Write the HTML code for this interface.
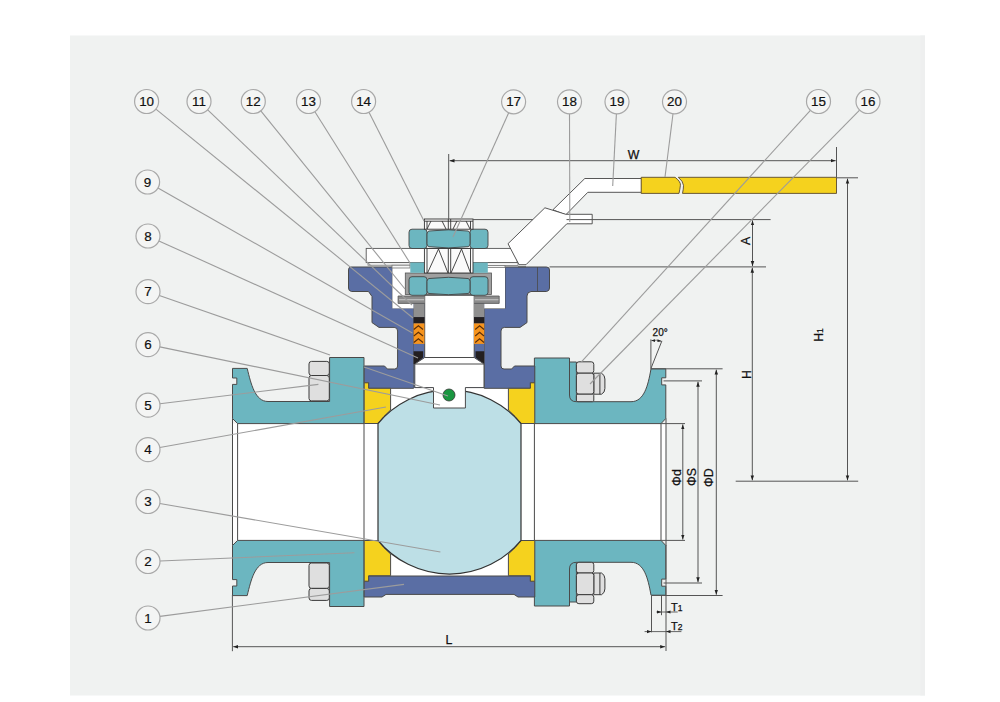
<!DOCTYPE html>
<html><head><meta charset="utf-8">
<style>
html,body{margin:0;padding:0;background:#fff;}
body{width:1000px;height:702px;overflow:hidden;position:relative;font-family:"Liberation Sans",sans-serif;}
svg{position:absolute;left:0;top:0;}
</style></head><body>
<svg width="1000" height="702" viewBox="0 0 1000 702" font-family="Liberation Sans, sans-serif">
<rect x="0" y="0" width="1000" height="702" fill="#ffffff"/>
<rect x="70" y="35.5" width="855" height="660" fill="#f0f2f1"/>
<rect x="920.3" y="35.5" width="4.7" height="660" fill="#eeefef"/>

<!-- ===== VALVE ===== -->
<g id="valve" stroke="#4a4a4a" stroke-width="1">
<!-- bore / cavity white -->
<rect x="232.5" y="423.6" width="433.3" height="116.8" fill="#ffffff" stroke="none"/>
<rect x="364" y="388" width="171" height="188" fill="#ffffff" stroke="none"/>

<!-- left flange top -->
<path fill="#6cb6c0" d="M232.5,368.4 H247.2 C251,384 255,401.5 268,401.5 H329.6 V357.5 H364 V423.6 H237.6 L232.5,418.5 V384.4 H236.8 V378 H232.5 Z"/>
<!-- left flange bottom -->
<path fill="#6cb6c0" d="M232.5,595.6 H247.2 C251,580 255,562.5 268,562.5 H329.6 V606.5 H364 V540.4 H237.6 L232.5,545.5 V579.6 H236.8 V586 H232.5 Z"/>
<!-- right flange top -->
<path fill="#6cb6c0" d="M534.4,358 H569.5 V362 H576.4 V401.7 H631 C644,401.7 648,386 651,368.8 H665.8 V377.8 H661.7 V384.9 H665.8 V418.5 L661,423.6 H534.4 Z"/>
<!-- right flange bottom -->
<path fill="#6cb6c0" d="M534.4,606 H569.5 V602 H576.4 V562.3 H631 C644,562.3 648,578 651,595.2 H665.8 V586.2 H661.7 V579.1 H665.8 V545.5 L661,540.4 H534.4 Z"/>

<!-- bore lines -->
<line x1="237.6" y1="423.6" x2="237.6" y2="540.4"/>
<line x1="661" y1="423.6" x2="661" y2="540.4"/>
<line x1="232.5" y1="418.5" x2="232.5" y2="545.5"/>
<line x1="666" y1="418.5" x2="666" y2="545.5"/>
<line x1="364" y1="423.6" x2="364" y2="540.4"/>
<line x1="534.4" y1="423.6" x2="534.4" y2="540.4"/>
<path fill="none" d="M569.5,362 V395 Q569.5,401.7 576.4,401.7 M569.5,602 V569 Q569.5,562.3 576.4,562.3"/>

<!-- body left -->
<path fill="#5a6ea4" d="M351,267 H392.4 V308 H413.6 V388.3 H368.6 V382.8 H364.2 V366 H384.5 L387.4,369 H394.6 Q397.6,369 397.6,366 V331 Q397.6,327.4 394.2,327.4 H379 L372,322.6 V296.5 L368.5,291.5 H351.5 Q348.5,291 348.5,288 V270 Q348.5,267 351,267 Z"/>
<!-- body right -->
<path fill="#5a6ea4" d="M546.5,267 H505 V308.4 H484.2 V388.3 H530.4 V382.8 H534.8 V366 H514.5 L511.6,369 H504 Q501,369 501,366 V331 Q501,327.4 504.4,327.4 H520 L527,322.6 V296 Q527,292 531,291.5 H546.5 Q549.5,291 549.5,288 V270 Q549.5,267 546.5,267 Z"/>
<line x1="537.5" y1="267" x2="537.5" y2="291" stroke-width="0.8"/>
<!-- body bottom band -->
<path fill="#5a6ea4" d="M368.6,576 H530.4 V581.2 H534.8 V597 H518 L514,594.4 H386 L382,597 H364.2 V581.2 H368.6 Z"/>

<!-- seats -->
<path fill="#f5d21e" d="M364.2,382.8 H368.6 V388.3 H390.6 V410 A93,93 0 0 0 378,423.5 H364.2 Z"/>
<path fill="#f5d21e" d="M534.8,382.8 H530.4 V388.3 H508.4 V410 A93,93 0 0 1 521,423.5 H534.8 Z"/>
<path fill="#f5d21e" d="M364.2,581.2 H368.6 V575.7 H390.6 V554 A93,93 0 0 1 378,540.5 H364.2 Z"/>
<path fill="#f5d21e" d="M534.8,581.2 H530.4 V575.7 H508.4 V554 A93,93 0 0 0 521,540.5 H534.8 Z"/>

<!-- ball -->
<path fill="#bddfe6" stroke="#333" stroke-width="1.2" d="M378,423.5 A93,93 0 0 1 521,423.5 V540.5 A93,93 0 0 1 378,540.5 Z"/>


<!-- ===== BOLTS ===== -->
<g fill="#dfdfdf" stroke="#3a3a3a" stroke-width="1">
<rect x="309" y="361.4" width="20.3" height="14.1" rx="2.5"/>
<rect x="309" y="375.5" width="20.3" height="25.4" rx="2.5"/>
<rect x="309" y="563" width="20.3" height="25.4" rx="2.5"/>
<rect x="309" y="588.4" width="20.3" height="12" rx="2.5"/>
<path d="M593.8,373.2 H601.5 Q604.9,375 604.9,379 V388.5 Q604.9,392.5 601.5,394.2 H593.8 Z"/>
<line x1="599.9" y1="373.2" x2="599.9" y2="394.2"/>
<rect x="576.4" y="361.8" width="17.4" height="11.4" rx="2.5"/>
<rect x="576.4" y="373.2" width="17.4" height="21" rx="2.5"/>
<rect x="576.4" y="394.2" width="17.4" height="7.5" rx="1.5"/>
<path d="M593.8,573 H601.5 Q604.9,574.8 604.9,578.8 V588.9 Q604.9,592.9 601.5,594.7 H593.8 Z"/>
<line x1="599.9" y1="573" x2="599.9" y2="594.7"/>
<rect x="576.4" y="562.3" width="17.4" height="10.7" rx="2.5"/>
<rect x="576.4" y="573" width="17.4" height="21.7" rx="2.5"/>
<rect x="576.4" y="594.7" width="17.4" height="9" rx="2.5"/>
</g>
<!-- ===== STEM AREA ===== -->
<!-- top cavity white -->
<rect x="392.4" y="267" width="112.6" height="41.4" fill="#ffffff" stroke="none"/>
<rect x="413.6" y="303" width="70.6" height="85" fill="#5a6ea4" stroke="none"/>
<!-- upper stem -->
<rect x="424.7" y="295.3" width="49.5" height="62.5" fill="#ffffff"/>
<!-- packing left -->
<rect x="413.6" y="303.4" width="10.8" height="13.7" fill="#8f8f8f" stroke="none"/>
<rect x="413.6" y="317.1" width="10.8" height="6.3" fill="#231f20" stroke="none"/>
<rect x="413.6" y="323.4" width="10.8" height="20.5" fill="#f7941d" stroke="none"/>
<path fill="none" stroke="#5a2e08" stroke-width="1.1" d="M413.8,329.5 L418.4,325.8 L423,329.5 M413.8,336 L418.4,332.3 L423,336 M413.8,342.5 L418.4,338.8 L423,342.5"/>
<!-- packing right -->
<rect x="474" y="303.4" width="10.2" height="13.7" fill="#8f8f8f" stroke="none"/>
<rect x="474" y="317.1" width="10.2" height="6.3" fill="#231f20" stroke="none"/>
<rect x="474" y="323.4" width="10.2" height="20.5" fill="#f7941d" stroke="none"/>
<path fill="none" stroke="#5a2e08" stroke-width="1.1" d="M475.2,329.5 L479.6,325.8 L484,329.5 M475.2,336 L479.6,332.3 L484,336 M475.2,342.5 L479.6,338.8 L484,342.5"/>
<!-- black gaskets -->
<path fill="#231f20" stroke="none" d="M413.6,351.3 H423.2 V357.5 L415,364 H413.6 Z"/>
<path fill="#231f20" stroke="none" d="M484.2,351.3 H475.5 V357.5 L483.5,364 H484.2 Z"/>
<!-- lower stem -->
<path fill="#ffffff" d="M424.7,357.5 H474.2 L484,364 V387.6 H465.4 V408 H433.5 V387.6 H414.8 V364 Z"/>
<line x1="414.8" y1="364" x2="484" y2="364"/>
<circle cx="449" cy="395" r="6" fill="#1a9640" stroke="#333" stroke-width="0.8"/>

<!-- washer -->
<path d="M424.7,296 H398.1 V303.4 H424.7 M474.2,296 H499.2 V303.4 H474.2" fill="#8c8c8c" stroke="#555" stroke-width="0.8"/>
<line x1="399" y1="299.7" x2="424" y2="299.7" stroke="#c0c0c0" stroke-width="1.2"/>
<line x1="475" y1="299.7" x2="498.4" y2="299.7" stroke="#c0c0c0" stroke-width="1.2"/>
<!-- lower nut frame -->
<rect x="405.3" y="273" width="86.2" height="21.5" fill="#a0a0a0" stroke="#555" stroke-width="0.8"/>
<!-- lower nut -->
<g fill="#6cb6c0" stroke="#444" stroke-width="0.9">
<rect x="409" y="276.7" width="18" height="18.6" rx="3"/>
<rect x="470" y="276.7" width="18" height="18.6" rx="3"/>
<path d="M429,278.5 Q448.5,276.09999999999997 468,278.5 Q470,279.0 470,281.5 V290.5 Q470,293.0 468,293.5 Q448.5,295.90000000000003 429,293.5 Q427,293.0 427,290.5 V281.5 Q427,279.0 429,278.5 Z"/>
</g>
<!-- handle plate -->
<rect x="368" y="262.4" width="42" height="2.8" fill="#f6f6f6" stroke="#777" stroke-width="0.8"/>
<rect x="392" y="265.2" width="18" height="2.8" fill="#f6f6f6" stroke="#777" stroke-width="0.8"/>
<rect x="473" y="262.6" width="45" height="2.8" fill="#f6f6f6" stroke="#777" stroke-width="0.8"/>
<rect x="473" y="265.4" width="32" height="2.2" fill="#f6f6f6" stroke="#777" stroke-width="0.8"/>
<rect x="366.2" y="248.4" width="151" height="14.2" fill="#ffffff" stroke="#555" stroke-width="0.9"/>
<!-- small teal blocks -->
<rect x="410.3" y="262.6" width="14.1" height="10.2" fill="#6cb6c0" stroke="none"/>
<rect x="473" y="262.6" width="14.8" height="10.2" fill="#6cb6c0" stroke="none"/>
<!-- stem wireframe middle -->
<g fill="none" stroke="#333" stroke-width="0.9">
<rect x="424.4" y="248.5" width="48.6" height="24.5" fill="#fafafa"/>
<line x1="427" y1="248.5" x2="427" y2="273"/>
<line x1="448.3" y1="248.5" x2="448.3" y2="273"/>
<line x1="450.7" y1="248.5" x2="450.7" y2="273"/>
<line x1="470.5" y1="248.5" x2="470.5" y2="273"/>
<path d="M427.5,273 L438.5,249 L448,273 M451,273 L461.5,249 L470.5,273"/>
</g>
<!-- top nut -->
<g fill="#6cb6c0" stroke="#444" stroke-width="0.9">
<rect x="409" y="229.2" width="18" height="19.3" rx="3"/>
<rect x="470" y="229.2" width="18" height="19.3" rx="3"/>
<path d="M429,231.0 Q448.5,228.6 468,231.0 Q470,231.5 470,234.0 V243.7 Q470,246.2 468,246.7 Q448.5,249.1 429,246.7 Q427,246.2 427,243.7 V234.0 Q427,231.5 429,231.0 Z"/>
</g>
<!-- wireframe top -->
<g fill="none" stroke="#333" stroke-width="0.9">
<rect x="424.4" y="219" width="48.6" height="10.2" fill="#fafafa"/>
<line x1="424.4" y1="221.2" x2="473" y2="221.2"/>
<line x1="427" y1="221" x2="427" y2="229.2"/>
<line x1="448.3" y1="219" x2="448.3" y2="229.2"/>
<line x1="450.7" y1="219" x2="450.7" y2="229.2"/>
<line x1="470.5" y1="221" x2="470.5" y2="229.2"/>
<path d="M427,229 L431,221 M446,229 L442,221 M453,229 L457,221 M470,229 L466,221"/>
</g>

<!-- lever -->
<path fill="#ffffff" stroke="#444" stroke-width="0.9" d="M552.9,209.8 L584.8,178.5 H641.6 V192.3 H587.8 L565.8,214.8 Z"/>
<!-- bracket -->
<path fill="#ffffff" stroke="#444" stroke-width="0.9" d="M544.9,207.8 L565.8,214.3 H592.2 V223.8 H566.8 L526,264.7 H519 L508,243.7 Z"/>
<!-- yellow grip -->
<path fill="#f5d21e" stroke="#5a4a30" stroke-width="0.9" d="M641.2,177.3 H675.1 Q681,182 680.4,185.3 Q680,189 679,193.4 H641.2 Z"/>
<path fill="#f5d21e" stroke="#5a4a30" stroke-width="0.9" d="M678.3,177.3 H836.5 V193.4 H682.5 Q683.5,189 683.5,185.3 Q683,181 678.3,177.3 Z"/>
</g>

<!-- ===== DIMENSIONS ===== -->
<defs>
<marker id="ar" viewBox="0 0 10 10" refX="10" refY="5" markerWidth="5" markerHeight="5" orient="auto-start-reverse" markerUnits="userSpaceOnUse">
<path d="M0,1.5 L10,5 L0,8.5 Z" fill="#222"/>
</marker>
</defs>
<g stroke="#555" stroke-width="1" fill="none">
<!-- W -->
<line x1="448.7" y1="154" x2="448.7" y2="219"/>
<line x1="836.5" y1="147" x2="836.5" y2="177.5"/>
<line x1="449.5" y1="160.7" x2="835.7" y2="160.7" marker-start="url(#ar)" marker-end="url(#ar)"/>
<!-- A ext -->
<line x1="473" y1="219.6" x2="532.8" y2="219.6"/><line x1="566.5" y1="219.6" x2="770.6" y2="219.6"/>
<line x1="549.5" y1="266.9" x2="766" y2="266.9"/>
<line x1="518" y1="266.9" x2="526" y2="266.9"/>
<line x1="752.5" y1="220.4" x2="752.5" y2="266.1" marker-start="url(#ar)" marker-end="url(#ar)"/>
<line x1="752.3" y1="267.7" x2="752.3" y2="480.4" marker-start="url(#ar)" marker-end="url(#ar)"/>
<!-- H1 -->
<line x1="836.5" y1="177.8" x2="858" y2="177.8"/>
<line x1="735.7" y1="481.2" x2="858.2" y2="481.2"/>
<line x1="847.5" y1="178.6" x2="847.5" y2="480.4" marker-start="url(#ar)" marker-end="url(#ar)"/>
<!-- phi D, S, d -->
<line x1="651" y1="368.8" x2="722.6" y2="368.8"/>
<line x1="651.5" y1="595.5" x2="722.6" y2="595.5"/>
<line x1="716.3" y1="369.6" x2="716.3" y2="594.7" marker-start="url(#ar)" marker-end="url(#ar)"/>
<line x1="663.5" y1="380.9" x2="702" y2="380.9"/>
<line x1="663.5" y1="583" x2="702" y2="583"/>
<line x1="698" y1="381.7" x2="698" y2="582.2" marker-start="url(#ar)" marker-end="url(#ar)"/>
<line x1="661" y1="423.6" x2="685" y2="423.6"/>
<line x1="661" y1="540.4" x2="685" y2="540.4"/>
<line x1="682.8" y1="424.4" x2="682.8" y2="539.6" marker-start="url(#ar)" marker-end="url(#ar)"/>
<!-- vertical ext right -->
<line x1="666" y1="545" x2="666" y2="651"/>
<line x1="661.5" y1="595.5" x2="661.5" y2="615.2"/>
<line x1="651.5" y1="595.5" x2="651.5" y2="632.3"/>
<!-- T1 T2 -->
<line x1="656.4" y1="612" x2="677.7" y2="612" stroke-width="0.9"/>
<line x1="644.6" y1="631.6" x2="681.4" y2="631.6" stroke-width="0.9"/>
<path d="M661.5,612 L657,610.4 V613.6 Z M666,612 L670.5,610.4 V613.6 Z M651.5,631.6 L647,630 V633.2 Z M666,631.6 L670.5,630 V633.2 Z" fill="#222" stroke="none"/>
<!-- L -->
<line x1="232.4" y1="595" x2="232.4" y2="651.2"/>
<line x1="233.2" y1="646.7" x2="665.2" y2="646.7" marker-start="url(#ar)" marker-end="url(#ar)"/>
<!-- 20 deg -->
<line x1="650.9" y1="339.4" x2="650.9" y2="368.8"/>
<line x1="650.9" y1="368.6" x2="661.9" y2="340.9"/>
<path d="M651.5,340.6 Q656.5,339.6 661.3,341" stroke-width="0.8"/>
<path d="M651.2,340.6 L655,339.2 L655,342 Z M661.5,341.2 L657.6,339.3 L657.4,342.1 Z" fill="#222" stroke="none"/>
</g>
<g fill="#111" font-size="12.3" stroke="#111" stroke-width="0.25">
<text x="633.5" y="158.6" text-anchor="middle">W</text>
<text x="671" y="610.5" font-size="11">T<tspan font-size="8.5">1</tspan></text>
<text x="671" y="629.8" font-size="11">T<tspan font-size="8.5">2</tspan></text>
<text x="449" y="644.2" text-anchor="middle">L</text>
<text x="652.6" y="336.2" font-size="10">20°</text>
<text transform="translate(750,241) rotate(-90)" text-anchor="middle">A</text>
<text transform="translate(751.3,374.5) rotate(-90)" text-anchor="middle">H</text>
<text transform="translate(823,335) rotate(-90)" text-anchor="middle">H<tspan font-size="8.5">1</tspan></text>
<text transform="translate(681,477.6) rotate(-90)" text-anchor="middle">Φd</text>
<text transform="translate(696,477) rotate(-90)" text-anchor="middle">ΦS</text>
<text transform="translate(713,477.6) rotate(-90)" text-anchor="middle">ΦD</text>
</g>
<g stroke="#9c9c9c" stroke-width="1.1" fill="none">
<line x1="155.9" y1="109.1" x2="413" y2="318"/>
<line x1="207.7" y1="109.8" x2="412" y2="305"/>
<line x1="260.8" y1="110.8" x2="405" y2="289"/>
<line x1="314.9" y1="111.7" x2="410" y2="263"/>
<line x1="369.0" y1="112.2" x2="424" y2="221"/>
<line x1="508.7" y1="112.8" x2="453" y2="237"/>
<line x1="569.5" y1="113.8" x2="569.8" y2="222"/>
<line x1="616.4" y1="113.8" x2="612.7" y2="186"/>
<line x1="673.0" y1="113.7" x2="665" y2="177"/>
<line x1="810.4" y1="110.4" x2="581.4" y2="361.8"/>
<line x1="859.6" y1="110.1" x2="590" y2="384"/>
<line x1="158.0" y1="187.9" x2="412.4" y2="333"/>
<line x1="158.9" y1="240.9" x2="418" y2="358"/>
<line x1="159.3" y1="295.5" x2="330" y2="354.9"/><line x1="364" y1="366.9" x2="448" y2="396"/>
<line x1="159.8" y1="346.9" x2="440" y2="405"/>
<line x1="159.9" y1="403.7" x2="318.4" y2="384.4"/>
<line x1="159.8" y1="447.5" x2="386" y2="407"/>
<line x1="159.8" y1="503.5" x2="440.4" y2="552"/>
<line x1="160.0" y1="561.0" x2="354.4" y2="552.8"/>
<line x1="159.9" y1="616.4" x2="404" y2="584.4"/>
</g>
<g>
<circle cx="146.6" cy="101.5" r="12" fill="#f4f5f4" stroke="#a8a8a8" stroke-width="1.2"/>
<text x="146.6" y="106.1" text-anchor="middle" font-size="13.4" fill="#111" stroke="#111" stroke-width="0.2">10</text>
<circle cx="199" cy="101.5" r="12" fill="#f4f5f4" stroke="#a8a8a8" stroke-width="1.2"/>
<text x="199" y="106.1" text-anchor="middle" font-size="13.4" fill="#111" stroke="#111" stroke-width="0.2">11</text>
<circle cx="253.3" cy="101.5" r="12" fill="#f4f5f4" stroke="#a8a8a8" stroke-width="1.2"/>
<text x="253.3" y="106.1" text-anchor="middle" font-size="13.4" fill="#111" stroke="#111" stroke-width="0.2">12</text>
<circle cx="308.5" cy="101.5" r="12" fill="#f4f5f4" stroke="#a8a8a8" stroke-width="1.2"/>
<text x="308.5" y="106.1" text-anchor="middle" font-size="13.4" fill="#111" stroke="#111" stroke-width="0.2">13</text>
<circle cx="363.6" cy="101.5" r="12" fill="#f4f5f4" stroke="#a8a8a8" stroke-width="1.2"/>
<text x="363.6" y="106.1" text-anchor="middle" font-size="13.4" fill="#111" stroke="#111" stroke-width="0.2">14</text>
<circle cx="513.6" cy="101.8" r="12" fill="#f4f5f4" stroke="#a8a8a8" stroke-width="1.2"/>
<text x="513.6" y="106.4" text-anchor="middle" font-size="13.4" fill="#111" stroke="#111" stroke-width="0.2">17</text>
<circle cx="569.5" cy="101.8" r="12" fill="#f4f5f4" stroke="#a8a8a8" stroke-width="1.2"/>
<text x="569.5" y="106.4" text-anchor="middle" font-size="13.4" fill="#111" stroke="#111" stroke-width="0.2">18</text>
<circle cx="617" cy="101.8" r="12" fill="#f4f5f4" stroke="#a8a8a8" stroke-width="1.2"/>
<text x="617" y="106.4" text-anchor="middle" font-size="13.4" fill="#111" stroke="#111" stroke-width="0.2">19</text>
<circle cx="674.5" cy="101.8" r="12" fill="#f4f5f4" stroke="#a8a8a8" stroke-width="1.2"/>
<text x="674.5" y="106.4" text-anchor="middle" font-size="13.4" fill="#111" stroke="#111" stroke-width="0.2">20</text>
<circle cx="818.5" cy="101.5" r="12" fill="#f4f5f4" stroke="#a8a8a8" stroke-width="1.2"/>
<text x="818.5" y="106.1" text-anchor="middle" font-size="13.4" fill="#111" stroke="#111" stroke-width="0.2">15</text>
<circle cx="868" cy="101.5" r="12" fill="#f4f5f4" stroke="#a8a8a8" stroke-width="1.2"/>
<text x="868" y="106.1" text-anchor="middle" font-size="13.4" fill="#111" stroke="#111" stroke-width="0.2">16</text>
<circle cx="147.6" cy="182" r="12" fill="#f4f5f4" stroke="#a8a8a8" stroke-width="1.2"/>
<text x="147.6" y="186.6" text-anchor="middle" font-size="13.4" fill="#111" stroke="#111" stroke-width="0.2">9</text>
<circle cx="148" cy="236" r="12" fill="#f4f5f4" stroke="#a8a8a8" stroke-width="1.2"/>
<text x="148" y="240.6" text-anchor="middle" font-size="13.4" fill="#111" stroke="#111" stroke-width="0.2">8</text>
<circle cx="148" cy="291.6" r="12" fill="#f4f5f4" stroke="#a8a8a8" stroke-width="1.2"/>
<text x="148" y="296.2" text-anchor="middle" font-size="13.4" fill="#111" stroke="#111" stroke-width="0.2">7</text>
<circle cx="148" cy="344.6" r="12" fill="#f4f5f4" stroke="#a8a8a8" stroke-width="1.2"/>
<text x="148" y="349.2" text-anchor="middle" font-size="13.4" fill="#111" stroke="#111" stroke-width="0.2">6</text>
<circle cx="148" cy="405.2" r="12" fill="#f4f5f4" stroke="#a8a8a8" stroke-width="1.2"/>
<text x="148" y="409.8" text-anchor="middle" font-size="13.4" fill="#111" stroke="#111" stroke-width="0.2">5</text>
<circle cx="148" cy="449.6" r="12" fill="#f4f5f4" stroke="#a8a8a8" stroke-width="1.2"/>
<text x="148" y="454.2" text-anchor="middle" font-size="13.4" fill="#111" stroke="#111" stroke-width="0.2">4</text>
<circle cx="148" cy="501.5" r="12" fill="#f4f5f4" stroke="#a8a8a8" stroke-width="1.2"/>
<text x="148" y="506.1" text-anchor="middle" font-size="13.4" fill="#111" stroke="#111" stroke-width="0.2">3</text>
<circle cx="148" cy="561.5" r="12" fill="#f4f5f4" stroke="#a8a8a8" stroke-width="1.2"/>
<text x="148" y="566.1" text-anchor="middle" font-size="13.4" fill="#111" stroke="#111" stroke-width="0.2">2</text>
<circle cx="148" cy="618" r="12" fill="#f4f5f4" stroke="#a8a8a8" stroke-width="1.2"/>
<text x="148" y="622.6" text-anchor="middle" font-size="13.4" fill="#111" stroke="#111" stroke-width="0.2">1</text>
</g>
</svg>
</body></html>
